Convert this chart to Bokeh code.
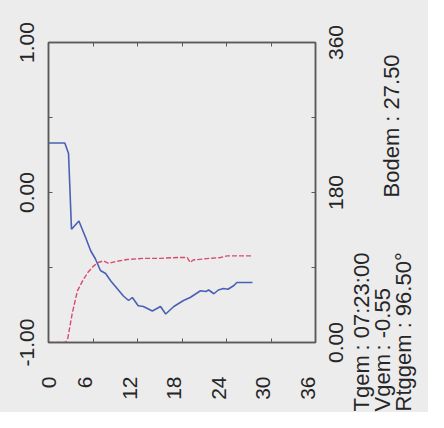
import math
from bokeh.plotting import figure
from bokeh.layouts import row
from bokeh.models import Range1d, LinearAxis, FixedTicker, NumeralTickFormatter
from bokeh.core.properties import value
from bokeh.embed import file_html
from bokeh.resources import INLINE

# ---- data ----
speed_t = [0, 2.2, 2.7, 3.1, 4.1, 5.0, 5.7, 6.3, 7.0, 7.7, 8.4, 10.1, 10.8, 11.3,
           12.1, 12.8, 14.0, 15.1, 15.8, 16.9, 18.2, 19.1, 20.5, 21.2, 21.6, 22.3,
           22.9, 23.6, 24.2, 25.0, 25.4, 27.5]
speed = [0.33, 0.33, 0.26, -0.245, -0.19, -0.30, -0.39, -0.44, -0.52, -0.54, -0.59,
         -0.69, -0.72, -0.70, -0.755, -0.76, -0.79, -0.76, -0.81, -0.76, -0.72, -0.70,
         -0.655, -0.66, -0.65, -0.675, -0.65, -0.64, -0.645, -0.62, -0.60, -0.60]

dir_t = [0, 2.3, 2.6, 3.2, 3.9, 4.6, 5.3, 6.1, 6.7, 7.4, 8.1, 9.0, 10.6, 12.8, 15.1,
         17.4, 18.7, 19.1, 19.5, 21.8, 23.2, 24.1, 25.2, 27.5]
direction = [0, 0, 5, 35, 62, 74, 84, 92, 96, 98, 95, 97, 99.6, 101, 101, 102, 102,
             96, 99, 101, 102, 104, 104, 104]

x_ticks = [0, 6, 12, 18, 24, 30, 36]
x_labels = ["0", "6", "12", "18", "24", "30", "36"]
left_ticks = [-1.0, 0.0, 1.0]
left_minor = [-0.5, 0.5]
right_ticks = [0, 180, 360]
right_minor = [90, 270]
right_labels = ["0.00", "180", "360"]

info_names = ["Tgem", "Vgem"]
info_values = [": 07:23:00", ": -0.55"]
rtg_text = "Rtggem : 96.50°"
bodem_text = "Bodem : 27.50"

# ---- layout / style ----
FONT = "Liberation Sans"
FS = "21px"
FS_INFO = "22px"
TXT = "#262626"
FRAME = "#5a5a5a"
BG = "#ececec"
H = 412
B_LEFT, B_RIGHT, B_TOP, B_BOTTOM = 48, 7, 42, 70
FRAME_W, FRAME_H = 267, 300
W1 = B_LEFT + FRAME_W + B_RIGHT
W2 = 428 - W1
X_MAX, DIR_MAX = 36, 360
P2_FIX = 9  # measured offset of the second panel

p = figure(width=W1, height=H, x_range=Range1d(0, X_MAX), y_range=Range1d(-1, 1),
           output_backend="svg", toolbar_location=None,
           x_axis_location=None, y_axis_location=None,
           min_border_left=B_LEFT, min_border_right=B_RIGHT,
           min_border_top=B_TOP, min_border_bottom=B_BOTTOM)
p.frame_align = False
p.extra_y_ranges = {"dir": Range1d(0, DIR_MAX)}
# tick labels of the time axis sit about 8 px left of their ticks in the original
shift = 69 / 64  # ~8 px in time units, an exact binary fraction
p.extra_x_ranges = {"xlab": Range1d(shift, X_MAX + shift)}
p.background_fill_color = BG
p.border_fill_color = BG
p.outline_line_color = FRAME
p.outline_line_width = 1.5
p.grid.visible = False


def style(ax):
    ax.axis_line_color = FRAME
    ax.axis_line_width = 1.5
    ax.major_tick_line_color = FRAME
    ax.minor_tick_line_color = FRAME
    ax.major_tick_in = 4
    ax.major_tick_out = 0
    ax.minor_tick_in = 4
    ax.minor_tick_out = 0
    ax.major_label_text_font = FONT
    ax.major_label_text_font_size = FS
    ax.major_label_text_color = TXT


bottom = LinearAxis(ticker=FixedTicker(ticks=x_ticks),
                    major_label_overrides={t: "" for t in x_ticks})
style(bottom)
bottom.major_label_standoff = 0
p.add_layout(bottom, "below")

# label row: the first label cannot go left of the frame, so it sits at its edge
lab_ticks = [shift] + x_ticks[1:]
bottom_lab = LinearAxis(x_range_name="xlab", ticker=FixedTicker(ticks=lab_ticks),
                        major_label_overrides=dict(zip(lab_ticks, x_labels)))
style(bottom_lab)
bottom_lab.axis_line_color = None
bottom_lab.major_tick_line_color = None
bottom_lab.minor_tick_line_color = None
bottom_lab.major_label_orientation = math.pi / 2
bottom_lab.major_label_standoff = 34
p.add_layout(bottom_lab, "below")

top = LinearAxis(ticker=FixedTicker(ticks=x_ticks),
                 major_label_overrides={t: "" for t in x_ticks})
style(top)
p.add_layout(top, "above")

left = LinearAxis(ticker=FixedTicker(ticks=left_ticks, minor_ticks=left_minor),
                  formatter=NumeralTickFormatter(format="0.00"))
style(left)
left.major_label_orientation = "parallel"
left.major_label_standoff = 15
p.add_layout(left, "left")

right = LinearAxis(y_range_name="dir",
                   ticker=FixedTicker(ticks=right_ticks, minor_ticks=right_minor),
                   major_label_overrides={t: "" for t in right_ticks})
style(right)
right.major_label_standoff = 0
p.add_layout(right, "right")

p.line(speed_t, speed, line_color="#4a60b4", line_width=1.6)
p.line(dir_t, direction, y_range_name="dir", line_color="#d84a6e", line_width=1.4,
       line_dash="5 2")

# ---- right-hand panel: direction tick labels and the summary texts ----
dpp = DIR_MAX / FRAME_H  # degrees per pixel, same scale as the right axis
p2 = figure(width=W2, height=H, x_range=Range1d(0, W2),
            y_range=Range1d(-B_BOTTOM * dpp, DIR_MAX + B_TOP * dpp),
            output_backend="svg", toolbar_location=None,
            x_axis_location=None, y_axis_location=None, min_border=0)
p2.frame_align = False
p2.background_fill_color = BG
p2.border_fill_color = BG
p2.outline_line_color = None
p2.grid.visible = False

txt = dict(angle=math.pi / 2, text_font=value(FONT), text_color=TXT,
           text_baseline="alphabetic")


def px(page_x):
    return page_x - W1 - P2_FIX


def page_y(py):
    return (B_TOP + FRAME_H - py) * dpp


p2.text(x=[px(344)] * len(right_ticks), y=right_ticks, text=right_labels,
        text_align="center", text_font_size=value(FS), **txt)

p2.text(x=[px(370), px(391)], y=[page_y(411)] * 2, text=info_names,
        text_align="left", text_font_size=value(FS_INFO), **txt)
p2.text(x=[px(370), px(391)], y=[page_y(350)] * 2, text=info_values,
        text_align="left", text_font_size=value(FS_INFO), **txt)
p2.text(x=[px(412)], y=[page_y(411)], text=[rtg_text], text_align="left",
        text_font_size=value(FS_INFO), **txt)
p2.text(x=[px(400)], y=[page_y(197)], text=[bodem_text], text_align="left",
        text_font_size=value(FS_INFO), **txt)

layout = row(p, p2, spacing=0, styles={"background-color": BG})
open("out.html", "w").write(file_html(layout, INLINE))
